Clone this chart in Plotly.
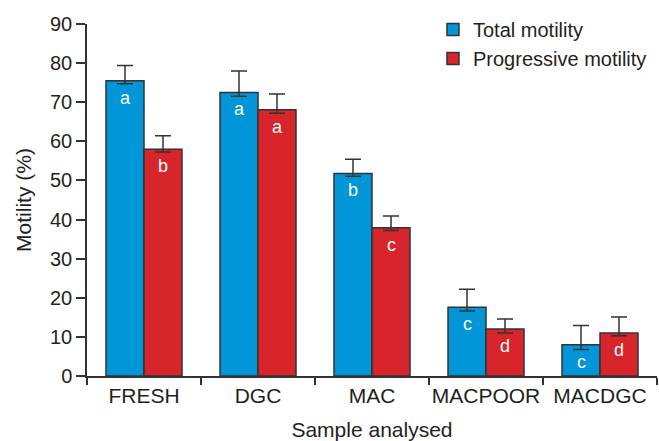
import plotly.graph_objects as go

categories = ["FRESH", "DGC", "MAC", "MACPOOR", "MACDGC"]
total = [75.5, 72.5, 51.8, 17.6, 8.0]
total_err_up = [3.9, 5.5, 3.6, 4.6, 4.9]
total_err_down = [0.8, 1.0, 0.7, 1.0, 1.2]
total_letters = ["a", "a", "b", "c", "c"]
prog = [58.0, 68.1, 37.9, 12.0, 11.0]
prog_err_up = [3.4, 4.0, 3.0, 2.6, 4.1]
prog_err_down = [0.7, 0.9, 0.7, 1.0, 0.7]
prog_letters = ["b", "a", "c", "d", "d"]

FONT = "Liberation Sans, Arial, sans-serif"
TXT = "#231f20"
LINE = "#333333"

fig = go.Figure()
fig.add_trace(go.Bar(
    name="Total motility", x=categories, y=total,
    marker=dict(color="#0096d8", line=dict(color=LINE, width=1.5)),
    error_y=dict(type="data", symmetric=False, array=total_err_up, arrayminus=total_err_down,
                 color=LINE, thickness=1.5, width=8),
))
fig.add_trace(go.Bar(
    name="Progressive motility", x=categories, y=prog,
    marker=dict(color="#d7252b", line=dict(color=LINE, width=1.5)),
    error_y=dict(type="data", symmetric=False, array=prog_err_up, arrayminus=prog_err_down,
                 color=LINE, thickness=1.5, width=8),
))

for c, v, t in zip(categories, total, total_letters):
    fig.add_annotation(x=c, y=v, text=t, showarrow=False, xshift=-19, yanchor="top", yshift=-5,
                       font=dict(family=FONT, size=18, color="white"))
for c, v, t in zip(categories, prog, prog_letters):
    fig.add_annotation(x=c, y=v, text=t, showarrow=False, xshift=19, yanchor="top", yshift=-5,
                       font=dict(family=FONT, size=18, color="white"))

fig.update_layout(
    width=659, height=441,
    margin=dict(l=87, r=2, t=24, b=65),
    paper_bgcolor="white", plot_bgcolor="white",
    barmode="group", bargap=1/3, bargroupgap=0,
    font=dict(family=FONT, color=TXT),
    legend=dict(x=0.607, y=1.04, xanchor="left", yanchor="top",
                font=dict(family=FONT, size=20, color=TXT),
                bgcolor="rgba(0,0,0,0)", tracegroupgap=0),
    xaxis=dict(
        showline=True, linecolor=LINE, linewidth=1.5, automargin=False, tickangle=0,
        ticks="outside", tickson="boundaries", ticklen=7, tickcolor=LINE, tickwidth=1.5,
        tickfont=dict(family=FONT, size=21, color=TXT),
        title=dict(text="Sample analysed", font=dict(family=FONT, size=21, color=TXT), standoff=22),
        showgrid=False,
    ),
    yaxis=dict(
        range=[0, 90], dtick=10, showline=True, linecolor=LINE, linewidth=1.5, automargin=False,
        ticks="outside", ticklen=9, tickcolor=LINE, tickwidth=1.5,
        tickfont=dict(family=FONT, size=20, color=TXT),
        title=dict(text="Motility (%)", font=dict(family=FONT, size=21, color=TXT), standoff=13),
        showgrid=False, zeroline=False,
    ),
)

fig.write_html("out.html", config={"displayModeBar": False},
               post_script="document.body.style.margin='0';document.body.style.overflow='hidden';")
